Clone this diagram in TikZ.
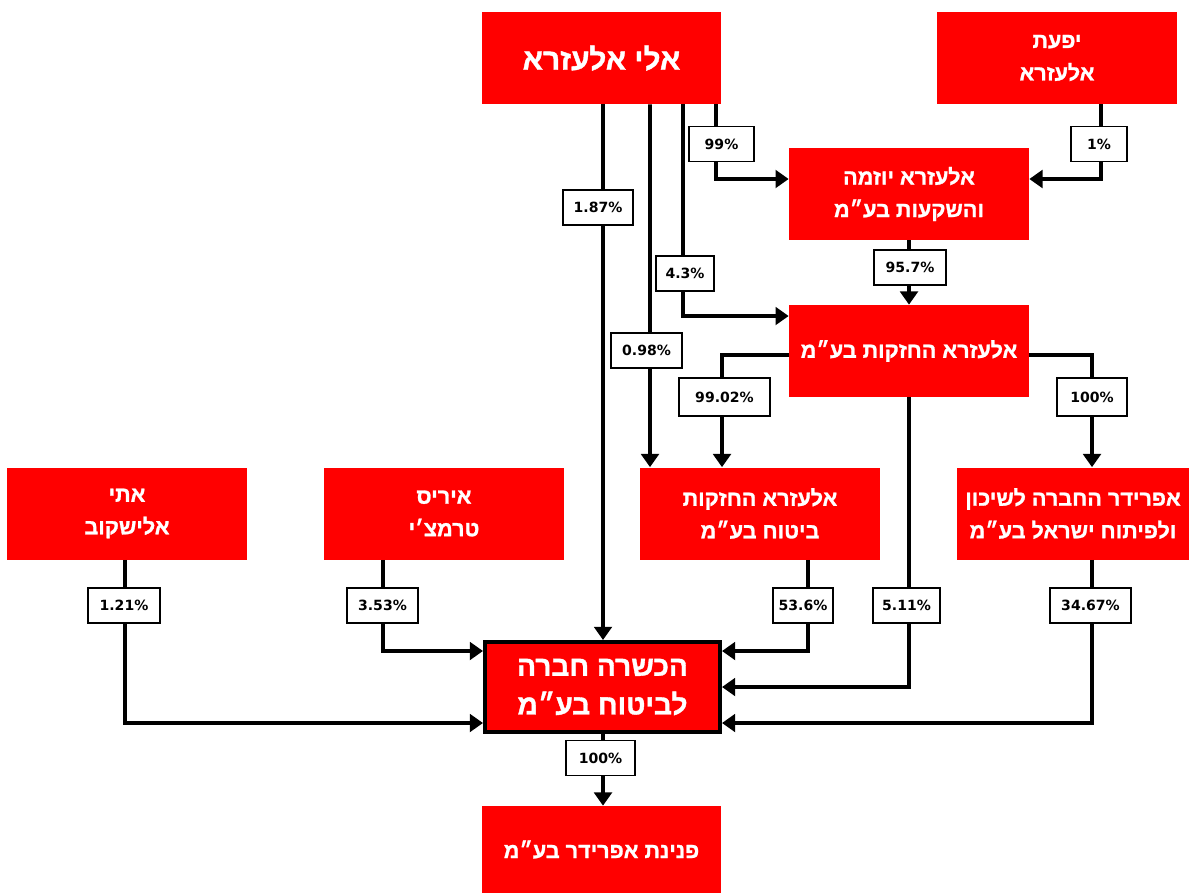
\documentclass[tikz,border=0pt]{standalone}
\usepackage{fontspec}
\usetikzlibrary{calc,arrows.meta}
\TeXXeTstate=1
\newfontfamily\hebfont[Script=Hebrew,BoldFeatures={FakeBold=1.2}]{Liberation Sans}
\newfontfamily\labfont{DejaVu Sans}
\definecolor{boxred}{HTML}{FF0000}
\newcommand{\heb}[1]{\beginR #1\endR}
\begin{document}
\begin{tikzpicture}[x=0.02cm,y=-0.02cm,
  redbox/.style={fill=boxred, text=white, minimum width=4.8cm, minimum height=1.84cm, inner sep=0pt, align=center, font=\hebfont\bfseries\fontsize{12.3}{18.5}\selectfont},
  bigtext/.style={font=\hebfont\bfseries\fontsize{17}{20}\selectfont},
  lab/.style={draw=black, fill=white, line width=0.6pt, minimum height=0.7cm, inner sep=1pt, font=\labfont\bfseries\fontsize{8}{9}\selectfont},
  arr/.style={line width=2.2pt, -{Triangle[length=7.5pt,width=10pt]}}]
\useasboundingbox (0,0) rectangle (1189,893);
% boxes
\node[redbox, bigtext] (eli) at (601.5,58) {\heb{אלי אלעזרא}};
\node[redbox] (yifat) at (1057,58) {\heb{יפעת}\\\heb{אלעזרא}};
\node[redbox] (yozma) at (909,194) {\heb{אלעזרא יוזמה}\\\heb{והשקעות בע״מ}};
\node[redbox] (hold) at (909,351) {\heb{אלעזרא החזקות בע״מ}};
\node[redbox] (iti) at (127,513.5) {\heb{אתי}\\\heb{אלישקוב}};
\node[redbox] (iris) at (444,513.5) {\heb{איריס}\\\heb{טרמצ׳י}};
\node[redbox] (ins) at (760,513.5) {\heb{אלעזרא החזקות}\\\heb{ביטוח בע״מ}};
\node[redbox, minimum width=4.64cm] (afr) at (1073,513.5) {\heb{אפרידר החברה לשיכון}\\\heb{ולפיתוח ישראל בע״מ}};
\node[redbox, draw=black, line width=2.3pt, minimum width=4.7cm, minimum height=1.8cm, font=\hebfont\bfseries\fontsize{16}{22}\selectfont] (target) at (602.5,687) {\heb{הכשרה חברה}\\\heb{לביטוח בע״מ}};
\node[redbox, minimum height=1.74cm] (pen) at (601.5,849.5) {\heb{פנינת אפרידר בע״מ}};
% connectors
\draw[arr] ($(eli.south)+(1.5,0)$) -- ($(target.north)+(0.5,0)$);
\draw[arr] ($(eli.south)+(48.5,0)$) -- ($(ins.north)+(-110,0)$);
\draw[arr] ($(eli.south)+(81.5,0)$) |- ($(hold.west)+(0,-35)$);
\draw[arr] ($(eli.south)+(114.5,0)$) |- ($(yozma.west)+(0,-15)$);
\draw[arr] ($(yifat.south)+(44,0)$) |- ($(yozma.east)+(0,-15)$);
\draw[arr] (yozma.south) -- (hold.north);
\draw[arr] ($(hold.west)+(0,4)$) -| ($(ins.north)+(-38,0)$);
\draw[arr] ($(hold.east)+(0,4)$) -| ($(afr.north)+(19,0)$);
\draw[arr] (hold.south) |- (target.east);
\draw[arr] ($(ins.south)+(48,0)$) |- ($(target.east)+(0,-36)$);
\draw[arr] ($(afr.south)+(19,0)$) |- ($(target.east)+(0,36)$);
\draw[arr] ($(iti.south)+(-2,0)$) |- ($(target.west)+(0,36)$);
\draw[arr] ($(iris.south)+(-61,0)$) |- ($(target.west)+(0,-36)$);
\draw[arr] ($(target.south)+(0.5,0)$) -- ($(pen.north)+(1.5,0)$);
% labels
\node[lab, minimum width=1.3cm] (l99) at (721.5,144) {99\%};
\node[lab, minimum width=1.12cm] (l1) at (1099,144) {1\%};
\node[lab, minimum width=1.4cm] (l187) at (598,207.5) {1.87\%};
\node[lab, minimum width=1.16cm] (l43) at (685,273.5) {4.3\%};
\node[lab, minimum width=1.44cm] (l957) at (910,267.5) {95.7\%};
\node[lab, minimum width=1.42cm] (l098) at (646.5,350.5) {0.98\%};
\node[lab, minimum width=1.82cm, minimum height=0.76cm] (l9902) at (724.5,397) {99.02\%};
\node[lab, minimum width=1.4cm, minimum height=0.76cm] (l100a) at (1092,397) {100\%};
\node[lab, minimum width=1.44cm] (l121) at (124,605.5) {1.21\%};
\node[lab, minimum width=1.42cm] (l353) at (382.5,605.5) {3.53\%};
\node[lab, minimum width=1.2cm] (l536) at (803,605.5) {53.6\%};
\node[lab, minimum width=1.34cm] (l511) at (906.5,605.5) {5.11\%};
\node[lab, minimum width=1.62cm] (l3467) at (1090.5,605.5) {34.67\%};
\node[lab, minimum width=1.38cm] (l100b) at (600.5,758) {100\%};
\end{tikzpicture}
\end{document}
